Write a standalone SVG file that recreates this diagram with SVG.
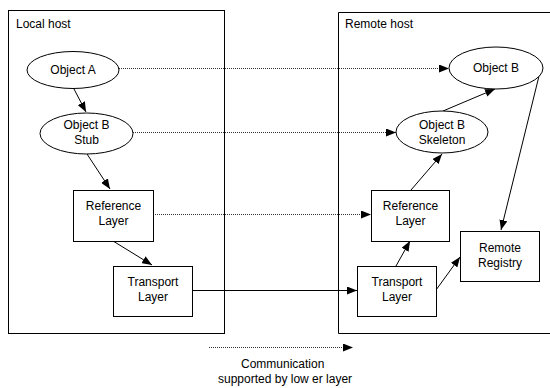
<svg xmlns="http://www.w3.org/2000/svg" width="550" height="388" viewBox="0 0 550 388">
<defs>
<marker id="ah" viewBox="0 0 10 8" refX="10" refY="4" markerWidth="10" markerHeight="8" markerUnits="userSpaceOnUse" orient="auto">
<path d="M0,0 L10,4 L0,8 Z" fill="#000"/>
</marker>
</defs>
<style>
text{font-family:"Liberation Sans",Arial,sans-serif;font-size:12px;fill:#000}
.c{text-anchor:middle}
.shape{fill:#fff;stroke:#000;stroke-width:1}
.host{fill:none;stroke:#000;stroke-width:1}
.solid{fill:none;stroke:#000;stroke-width:1;marker-end:url(#ah)}
.dot{fill:none;stroke:#333;stroke-width:1;stroke-dasharray:1 1;marker-end:url(#ah)}
.plain{fill:none;stroke:#000;stroke-width:1}
</style>
<rect width="550" height="388" fill="#fff"/>
<g id="local-host">
<rect class="host" x="8.5" y="10.5" width="216" height="323"/>
<text x="16" y="28">Local host</text>
</g>
<g id="remote-host">
<path class="host" d="M552,12.5 H338.5 V333.5 H552"/>
<text x="345" y="28">Remote host</text>
</g>
<g id="connectors">
<line class="dot" x1="119" y1="68.5" x2="449" y2="68.5"/>
<line class="dot" x1="133" y1="132.5" x2="396" y2="132.5"/>
<line class="dot" x1="153" y1="214.5" x2="371" y2="214.5"/>
<line class="solid" x1="192" y1="290.5" x2="357" y2="290.5"/>
<line class="solid" x1="74" y1="89" x2="86" y2="112"/>
<line class="solid" x1="87" y1="154" x2="110" y2="189"/>
<line class="solid" x1="113" y1="241" x2="152" y2="265"/>
<line class="solid" x1="443" y1="111" x2="495" y2="89"/>
<line class="solid" x1="411" y1="190" x2="442" y2="154"/>
<line class="solid" x1="396" y1="266" x2="410" y2="241"/>
<line class="solid" x1="436" y1="290" x2="460" y2="257"/>
<line class="solid" x1="539" y1="76" x2="501" y2="230"/>
<line class="dot" x1="209" y1="347.5" x2="353" y2="347.5"/>
</g>
<g id="object-a">
<ellipse class="shape" cx="73" cy="70" rx="46" ry="18.5"/>
<text class="c" x="73" y="74">Object A</text>
</g>
<g id="object-b-stub">
<ellipse class="shape" cx="86.5" cy="133.5" rx="46.5" ry="20.5"/>
<text class="c" x="86.5" y="129">Object B</text>
<text class="c" x="86.5" y="144">Stub</text>
</g>
<g id="reference-layer-local">
<rect class="shape" x="73.5" y="190.5" width="80" height="51"/>
<text class="c" x="113.5" y="210">Reference</text>
<text class="c" x="113.5" y="225">Layer</text>
</g>
<g id="transport-layer-local">
<rect class="shape" x="113.5" y="266.5" width="79" height="50"/>
<text class="c" x="153" y="286">Transport</text>
<text class="c" x="153" y="301">Layer</text>
</g>
<g id="object-b">
<ellipse class="shape" cx="496" cy="68" rx="47" ry="21"/>
<text class="c" x="496" y="72">Object B</text>
</g>
<g id="object-b-skeleton">
<ellipse class="shape" cx="442" cy="132" rx="46" ry="21"/>
<text class="c" x="442" y="129">Object B</text>
<text class="c" x="442" y="144">Skeleton</text>
</g>
<g id="reference-layer-remote">
<rect class="shape" x="371.5" y="190.5" width="78" height="51"/>
<text class="c" x="410.5" y="210">Reference</text>
<text class="c" x="410.5" y="225">Layer</text>
</g>
<g id="remote-registry">
<rect class="shape" x="460.5" y="231.5" width="79" height="50"/>
<text class="c" x="500" y="252">Remote</text>
<text class="c" x="500" y="267">Registry</text>
</g>
<g id="transport-layer-remote">
<rect class="shape" x="357.5" y="266.5" width="79" height="50"/>
<text class="c" x="397" y="286">Transport</text>
<text class="c" x="397" y="301">Layer</text>
</g>
<g id="legend">
<text x="241" y="368">Communication</text>
<text x="218" y="383">supported by low er layer</text>
</g>
</svg>
